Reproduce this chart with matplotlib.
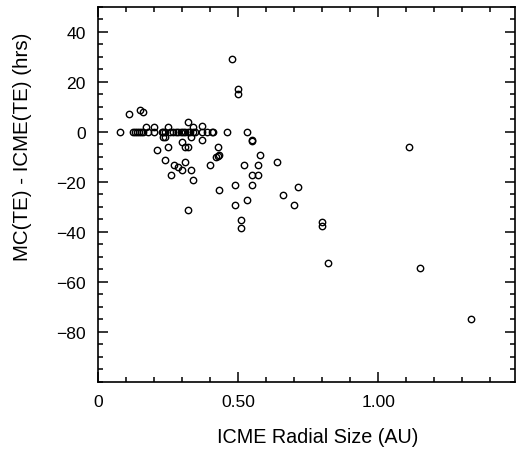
import numpy as np
import matplotlib.pyplot as plt
from matplotlib.ticker import MultipleLocator, FixedLocator, FixedFormatter

# -----------------------
# DATA
# -----------------------
# points sitting on the zero line
zero_x = [0.079, 0.125, 0.132, 0.139, 0.146, 0.154, 0.161, 0.179, 0.199,
          0.226, 0.232, 0.240, 0.258, 0.267, 0.276, 0.285, 0.294, 0.302,
          0.311, 0.320, 0.329, 0.338, 0.347, 0.369, 0.390, 0.408, 0.411,
          0.459, 0.530]
zero_y = [0.0] * len(zero_x)

other_x = [0.479, 0.500, 0.500, 0.110, 0.149, 0.159, 0.169, 0.200, 0.250,
           0.319, 0.339, 0.369, 0.230, 0.238, 0.330, 0.369, 0.550, 0.550,
           0.298, 0.250, 0.310, 0.319, 0.429, 0.210, 0.420, 0.429, 0.431,
           0.579, 0.238, 0.310, 0.639, 0.270, 0.399, 0.519, 0.569, 0.286,
           0.298, 0.330, 0.260, 0.549, 0.569, 0.339, 0.489, 0.550, 0.715,
           0.430, 0.660, 0.530, 0.489, 0.700, 0.319, 0.509, 0.509, 0.800,
           0.800, 0.819, 1.110, 1.149, 1.330]
other_y = [29.0, 17.0, 15.0, 7.0, 8.7, 7.8, 2.0, 2.0, 2.0,
           3.9, 2.0, 2.1, -2.2, -2.2, -2.2, -3.2, -3.2, -3.6,
           -4.2, -6.2, -6.2, -6.2, -6.2, -7.3, -10.0, -9.6, -9.3,
           -9.3, -11.2, -12.1, -12.1, -13.3, -13.3, -13.3, -13.3, -14.2,
           -15.3, -15.3, -17.3, -17.3, -17.3, -19.3, -21.3, -21.3, -22.2,
           -23.3, -25.3, -27.5, -29.3, -29.3, -31.3, -35.4, -38.5, -36.2,
           -37.6, -52.5, -6.2, -54.6, -74.9]

size_au = zero_x + other_x
delta_hrs = zero_y + other_y

# -----------------------
# PLOT
# -----------------------
plt.rcParams['font.family'] = ['Liberation Sans', 'DejaVu Sans']

fig = plt.figure(figsize=(5.17, 4.52), dpi=100)
ax = fig.add_axes([0.190, 0.1533, 0.806, 0.8301])

ax.plot(size_au, delta_hrs, 'o', mfc='none', mec='black', ms=4.6, mew=1.0)

ax.set_xlim(0, 1.488)
ax.set_ylim(-100, 50)

ax.xaxis.set_major_locator(FixedLocator([0, 0.5, 1.0]))
ax.xaxis.set_major_formatter(FixedFormatter(['0', '0.50', '1.00']))
ax.xaxis.set_minor_locator(MultipleLocator(0.1))
ax.yaxis.set_major_locator(FixedLocator([-80, -60, -40, -20, 0, 20, 40]))
ax.yaxis.set_minor_locator(MultipleLocator(5))

ax.tick_params(which='both', direction='in', top=True, right=True,
               labelsize=12.6, width=1.1)
ax.tick_params(which='major', length=7, pad=9)
ax.tick_params(which='minor', length=3.5)
for s in ax.spines.values():
    s.set_linewidth(1.2)

ax.set_xlabel('ICME Radial Size (AU)', fontsize=14.2)
ax.set_ylabel('MC(TE) - ICME(TE) (hrs)', fontsize=14.8)
ax.xaxis.set_label_coords(0.527, -0.122)
ax.yaxis.set_label_coords(-0.160, 0.628)

fig.savefig('out.png', dpi=100)
